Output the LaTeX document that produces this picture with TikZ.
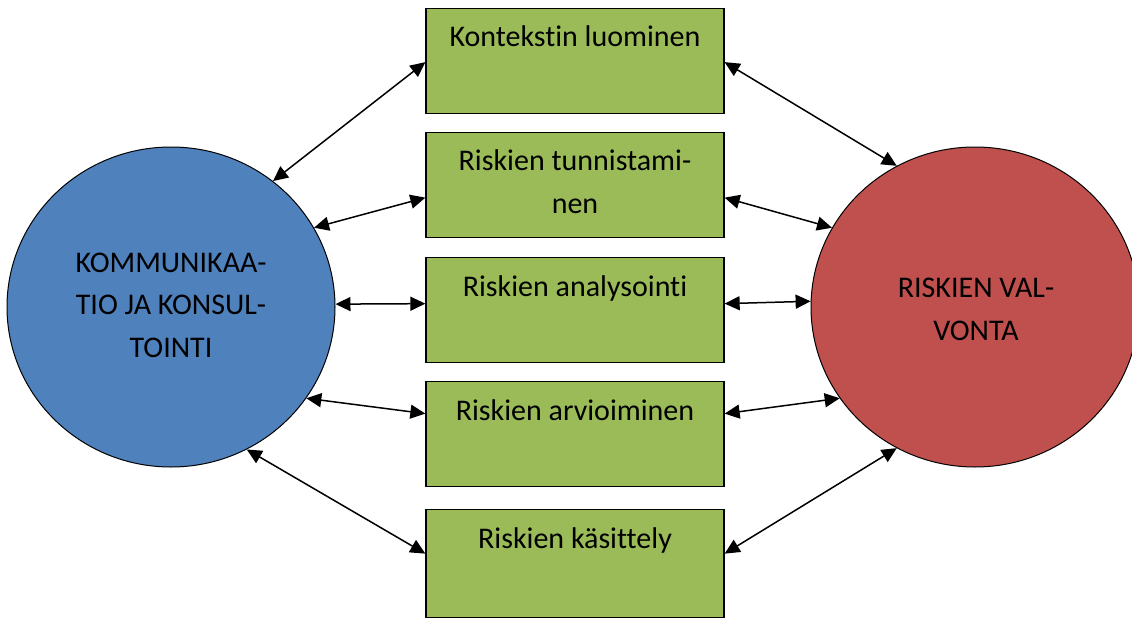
\documentclass[tikz,border=0pt]{standalone}
\usepackage{fontspec}
\setmainfont{Carlito}[Ligatures=CommonOff]
\usetikzlibrary{arrows.meta,shapes.geometric,calc}
\definecolor{blueball}{HTML}{4F81BD}
\definecolor{redball}{HTML}{C0504D}
\definecolor{stagegreen}{HTML}{9BBB59}

\begin{document}
\begin{tikzpicture}[x=1pt,y=-1pt,
  ball/.style={ellipse, draw=black, line width=1pt, minimum width=328pt,
    minimum height=320pt, inner sep=0pt},
  stage/.style={rectangle, draw=black, line width=1.3pt, fill=stagegreen,
    minimum width=298pt, minimum height=105pt, inner sep=0pt, anchor=north},
  caption/.style={anchor=base, align=center, inner sep=0pt,
    font=\fontsize{30}{42.5}\selectfont},
  link/.style={arrows={Triangle[length=15pt,width=14pt]-Triangle[length=15pt,width=14pt]},
    line width=1.5pt},
]
\useasboundingbox (0,0) rectangle (1132,618);

% the two round partners (multi-line captions are placed by their last baseline)
\node[ball, fill=blueball] (L) at (171,307) {};
\node[ball, fill=redball]  (R) at (975,307) {};
\node[caption] (Ltext) at (171,357) {KOMMUNIKAA-\\TIO JA KONSUL-\\TOINTI};
\node[caption] (Rtext) at (976,340) {RISKIEN VAL-\\VONTA};

% the process stages
\node[stage] (b1) at (575,8)   {};
\node[stage] (b2) at (575,132) {};
\node[stage] (b3) at (575,257) {};
\node[stage] (b4) at (575,381) {};
\node[stage, minimum height=108pt] (b5) at (575,509) {};
\node[caption] (t1) at (575,47)  {Kontekstin luominen};
\node[caption] (t2) at (575,213) {Riskien tunnistami-\\nen};
\node[caption] (t3) at (575,296) {Riskien analysointi};
\node[caption] (t4) at (575,420) {Riskien arvioiminen};
\node[caption] (t5) at (575,548) {Riskien käsittely};

% two-way links to the communication circle
\draw[link] (L.51.3)  -- ([yshift=-1pt]b1.west);
\draw[link] (L.29.3)  -- ([yshift=-12.5pt]b2.west);
\draw[link] (L.1.4)   -- ([yshift=6.5pt]b3.west);
\draw[link] (L.-34.2) -- ([yshift=20.5pt]b4.west);
\draw[link] (L.-62)   -- ([yshift=10pt]b5.west);

% two-way links to the monitoring circle
\draw[link] ([yshift=-1pt]b1.east)    -- (R.119.1);
\draw[link] ([yshift=-12.5pt]b2.east) -- (R.151.8);
\draw[link] ([yshift=6.5pt]b3.east)   -- (R.178.6);
\draw[link] ([yshift=20.5pt]b4.east)  -- (R.214.3);
\draw[link] ([yshift=10pt]b5.east)    -- (R.241.7);
\end{tikzpicture}
\end{document}
